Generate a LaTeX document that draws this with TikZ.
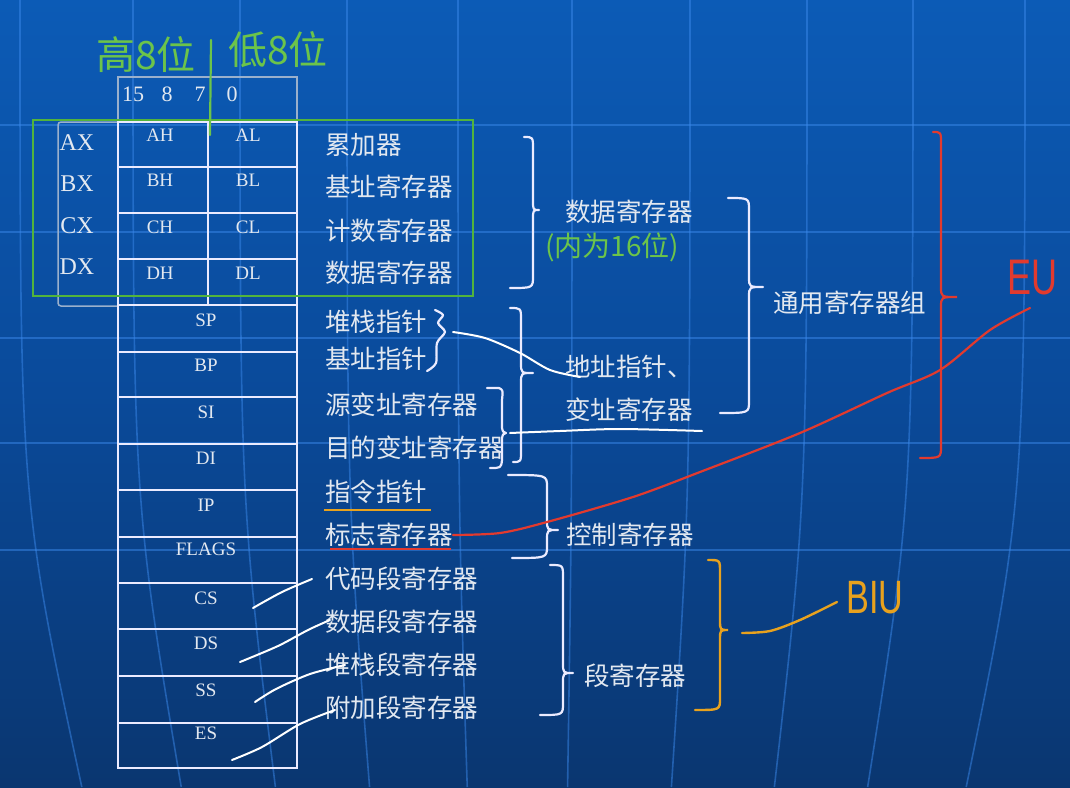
\documentclass[tikz,border=0pt]{standalone}
\usepackage{fontspec}
\usepackage{graphicx}
\setmainfont{Liberation Serif}
\newfontfamily\cjk{Noto Sans CJK SC}
\newfontfamily\hand{Liberation Sans}
\definecolor{bgtop}{HTML}{0C5BB6}
\definecolor{bgmid}{HTML}{0A4A9A}
\definecolor{bgbot}{HTML}{0A3670}
\definecolor{gridc}{HTML}{3A88EA}
\definecolor{txt}{HTML}{E2E8F0}
\definecolor{faintc}{HTML}{9AB0CC}
\definecolor{grn}{HTML}{52B43C}
\definecolor{hgrn}{HTML}{6CC44A}
\definecolor{eured}{HTML}{E23A2E}
\definecolor{biuor}{HTML}{E8A21E}
\newcommand\mybrace[8]{%
  \draw[#1] (#2,#3) .. controls (#4,#3) .. ({#4},{#3+12}) -- ({#4},{#6-10})
    .. controls (#4,#6) .. (#5,#6) .. controls (#4,#6) .. ({#4},{#6+10})
    -- ({#4},{#7-12}) .. controls (#4,#7) .. (#8,#7);}
\tikzset{
  reg/.style={font=\fontsize{19}{19}\selectfont, text=txt, inner sep=0},
  xreg/.style={font=\fontsize{24}{24}\selectfont, text=txt, inner sep=0},
  hdr/.style={font=\fontsize{22}{22}\selectfont, text=txt, inner sep=0},
  cn/.style={font=\cjk\fontsize{25.5}{25.5}\selectfont, text=txt, anchor=west, inner sep=0},
  tline/.style={draw=white!92!blue, line width=2.4},
  faint/.style={draw=faintc, line width=1.5},
  wbrace/.style={draw=white!92!blue, line width=2.2, line cap=round, line join=round},
  handw/.style={draw=white, line width=2, line cap=round, line join=round},
  gridl/.style={draw=gridc, line width=1.6, opacity=0.5},
  hgreen/.style={font=\cjk\fontsize{39}{39}\selectfont, text=hgrn, inner sep=0},
}
\begin{document}
\begin{tikzpicture}[x=1pt,y=-1pt]
\useasboundingbox (0,0) rectangle (1070,787);
% background
\shade[top color=bgtop, bottom color=bgbot, middle color=bgmid] (0,0) rectangle (1070,787);
\foreach \y in {125,232,338,443,550} \draw[gridl] (0,\y) -- (1070,\y);
\foreach \x in {20,133,240,347,458,572,690,807,913,1025}
  \draw[gridl] (\x,0) .. controls (\x,500) .. ({\x+(535-\x)*0.12},787);
% faint outer boxes
\draw[faint, rounded corners=3] (118,122) -- (58,122) -- (58,306) -- (118,306);
\draw[faint] (118,122) -- (118,77) -- (297,77) -- (297,122);
% main table
\draw[tline] (118,122) rectangle (297,768);
\foreach \y in {167,213,259,305,352,397,444,490,537,583,629,676,723}
  \draw[tline] (118,\y) -- (297,\y);
\draw[tline] (208,122) -- (208,305);
% header digits
\node[hdr] (h15) at (133,94) {15};
\node[hdr] (h8) at (167,94) {8};
\node[hdr] (h7) at (200,94) {7};
\node[hdr] (h0) at (232,94) {0};
% X registers
\node[xreg] (ax) at (77,143) {AX};
\node[xreg] (bx) at (77,184) {BX};
\node[xreg] (cx) at (77,226) {CX};
\node[xreg] (dx) at (77,267) {DX};
\foreach \a/\y in {A/135,B/180,C/227,D/273}{
  \node[reg] (\a h) at (160,\y) {\a H};
  \node[reg] (\a l) at (248,\y) {\a L};
}
\foreach \n/\y in {SP/320,BP/365,SI/412,DI/458,IP/505,FLAGS/549,CS/598,DS/643,SS/690,ES/733}
  \node[reg] (r\n) at (206,\y) {\n};
% green box and notes
\draw[grn, line width=2.4] (33,120) rectangle (473,296);
\draw[hgrn, line width=2.2, line cap=round] (211,40) -- (210,135);
\node[hgreen] (hi8) at (146,55) {高8位};
\node[hgreen] (lo8) at (278,50) {低8位};
\node[font=\cjk\fontsize{28}{28}\selectfont, text=hgrn, inner sep=0] (in16) at (612,247) {(内为16位)};
% Chinese labels
\node[cn] (l1) at (325,145) {累加器};
\node[cn] (l2) at (325,187) {基址寄存器};
\node[cn] (l3) at (325,231) {计数寄存器};
\node[cn] (l4) at (325,273) {数据寄存器};
\node[cn] (l5) at (325,322) {堆栈指针};
\node[cn] (l6) at (325,359) {基址指针};
\node[cn] (l7) at (325,405) {源变址寄存器};
\node[cn] (l8) at (325,448) {目的变址寄存器};
\node[cn] (l9) at (325,492) {指令指针};
\node[cn] (l10) at (325,535) {标志寄存器};
\node[cn] (l11) at (325,579) {代码段寄存器};
\node[cn] (l12) at (325,622) {数据段寄存器};
\node[cn] (l13) at (325,665) {堆栈段寄存器};
\node[cn] (l14) at (325,708) {附加段寄存器};
\node[cn] (g1) at (565,212) {数据寄存器};
\node[cn] (g2) at (565,367) {地址指针、};
\node[cn] (g3) at (565,410) {变址寄存器};
\node[cn] (g4) at (773,303) {通用寄存器组};
\node[cn] (g5) at (566,535) {控制寄存器};
\node[cn] (g6) at (584,676) {段寄存器};
% underlines
\draw[biuor, line width=2.4] (324,510) -- (431,510);
\draw[eured, line width=2.4] (330,549) -- (451,549);
% white braces
\mybrace{wbrace}{524}{137}{533}{539}{210}{288}{510}
\mybrace{wbrace}{510}{308}{521}{533}{373}{462}{513}
\mybrace{wbrace}{728}{198}{749}{763}{287}{413}{720}
\mybrace{wbrace}{508}{475}{547}{558}{530}{558}{512}
\mybrace{wbrace}{550}{565}{563}{573}{673}{715}{540}
\draw[wbrace] plot[smooth] coordinates {(435,310) (443,315) (438,323) (445,332) (437,343) (436,363) (427,371)};
\draw[wbrace] (487,388) -- (499,388) .. controls (503,390) .. (502,400) -- (502,428) .. controls (503,432) .. (506,433) .. controls (503,434) .. (502,438) -- (502,460) .. controls (501,468) .. (490,468);
% red EU brace
\mybrace{eured, line width=2.2, line cap=round}{933}{132}{941}{957}{297}{458}{920}
% orange BIU brace
\mybrace{biuor, line width=2.4, line cap=round}{708}{560}{720}{728}{630}{710}{695}
% hand-drawn white lines
\coordinate (w1a) at (453,332); \coordinate (w1b) at (580,377);
\draw[handw] plot[smooth] coordinates {(w1a) (485,338) (520,353) (550,370) (w1b)};
\coordinate (w2a) at (510,433); \coordinate (w2b) at (702,431);
\draw[handw] plot[smooth] coordinates {(w2a) (560,431) (620,429) (w2b)};
\draw[handw] plot[smooth] coordinates {(253,608) (282,592) (312,579)};
\draw[handw] plot[smooth] coordinates {(240,662) (278,646) (308,630) (330,620)};
\draw[handw] plot[smooth] coordinates {(255,702) (276,689) (310,674) (345,665)};
\draw[handw] plot[smooth] coordinates {(232,760) (262,747) (300,724) (335,710)};
% red EU connector
\node[font=\hand\fontsize{40}{40}\selectfont, text=eured, inner sep=0] (eu) at (1032,278) {\scalebox{0.9}[1.25]{EU}};
\draw[eured, line width=2.2, line cap=round] plot[smooth] coordinates {(l10.east) (500,533) (547,522) (633,497) (700,472) (800,433) (887,393) (940,370) (990,330) (1030,308)};
% orange BIU connector
\node[font=\hand\fontsize{36}{36}\selectfont, text=biuor, inner sep=0] (biu) at (875,598) {\scalebox{0.95}[1.3]{BIU}};
\draw[biuor, line width=2.4, line cap=round] plot[smooth] coordinates {(742,633) (770,631) (800,620) (837,602)};
\end{tikzpicture}
\end{document}
